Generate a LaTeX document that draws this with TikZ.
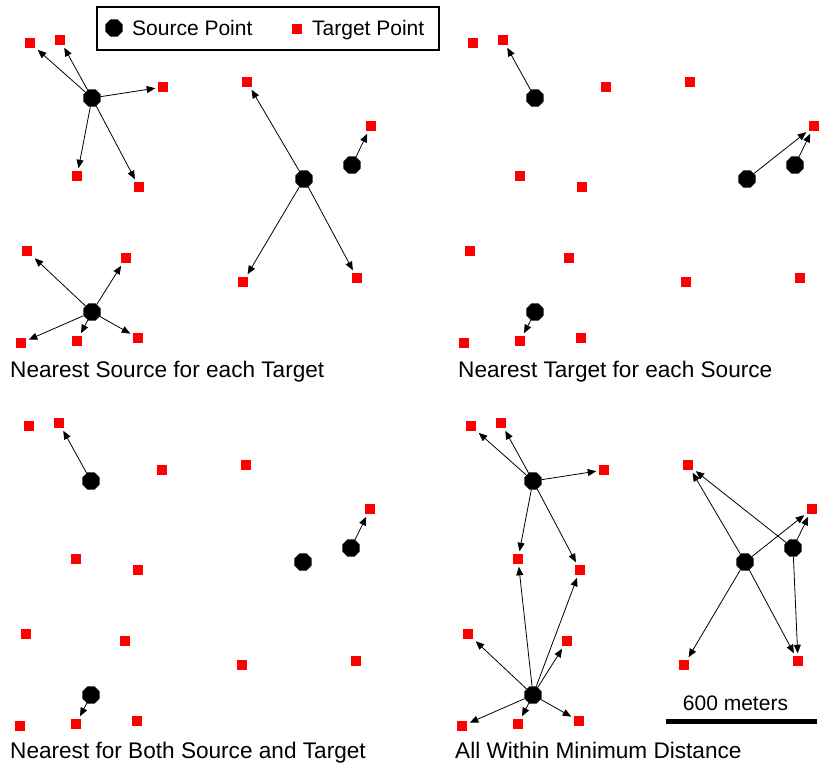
\documentclass[tikz,border=0pt]{standalone}
\usepackage{fontspec}
\setmainfont{Liberation Sans}
\usetikzlibrary{arrows.meta, shapes.geometric}
\definecolor{targetred}{HTML}{FF0000}

% the same sources and targets are placed in every panel
\newcommand{\placepoints}{%
  \node[src] (S1) at (92,98) {};
  \node[src] (S2) at (304,179) {};
  \node[src] (S3) at (352,165) {};
  \node[src] (S4) at (92,312) {};
  \node[tgt] (T1) at (30,43) {};
  \node[tgt] (T2) at (60,40) {};
  \node[tgt] (T3) at (163,87) {};
  \node[tgt] (T4) at (247,82) {};
  \node[tgt] (T5) at (371,126) {};
  \node[tgt] (T6) at (77,176) {};
  \node[tgt] (T7) at (139,187) {};
  \node[tgt] (T8) at (27,251) {};
  \node[tgt] (T9) at (126,258) {};
  \node[tgt] (T10) at (243,282) {};
  \node[tgt] (T11) at (357,278) {};
  \node[tgt] (T12) at (21,343) {};
  \node[tgt] (T13) at (77,341) {};
  \node[tgt] (T14) at (138,338) {};
}

\begin{document}
\begin{tikzpicture}[x=1pt, y=-1pt,
    src/.style={regular polygon, regular polygon sides=8, fill=black, inner sep=0pt, minimum size=18.5pt},
    tgt/.style={rectangle, fill=targetred, inner sep=0pt, minimum size=10.5pt, outer sep=2.5pt},
    arr/.style={-{Triangle[length=8.5pt, width=7pt]}, line width=0.8pt},
    caption/.style={anchor=base west, inner sep=0pt, font=\fontsize{22.6}{27}\selectfont},
    legtext/.style={anchor=base west, inner sep=0pt, font=\fontsize{21}{25}\selectfont},
]
\useasboundingbox (0,0) rectangle (827,764);

% legend
\draw[line width=1.2pt] (97,7) rectangle (439,50);
\node[src] (leg-src) at (114,28) {};
\node[legtext] (leg-srctext) at (132,35.5) {Source Point};
\node[tgt, outer sep=0pt] (leg-tgt) at (297,29) {};
\node[legtext] (leg-tgttext) at (312,35.5) {Target Point};

% nearest source for each target
\begin{scope}[name prefix=a-]
\placepoints
\foreach \s/\t in {S1/T1, S1/T2, S1/T3, S1/T6, S1/T7, S2/T4, S2/T10, S2/T11, S3/T5,
    S4/T8, S4/T9, S4/T12, S4/T13, S4/T14}
  \draw[arr] (\s) -- (\t);
\end{scope}

% nearest target for each source
\begin{scope}[shift={(443,0)}, name prefix=b-]
\placepoints
\foreach \s/\t in {S1/T2, S2/T5, S3/T5, S4/T13}
  \draw[arr] (\s) -- (\t);
\end{scope}

% nearest for both
\begin{scope}[shift={(-1,383)}, name prefix=c-]
\placepoints
\foreach \s/\t in {S1/T2, S3/T5, S4/T13}
  \draw[arr] (\s) -- (\t);
\end{scope}

% all within minimum distance
\begin{scope}[shift={(441,383)}, name prefix=d-]
\placepoints
\foreach \s/\t in {S1/T1, S1/T2, S1/T3, S1/T6, S1/T7, S2/T4, S2/T5, S2/T10, S2/T11,
    S3/T4, S3/T5, S3/T11, S4/T6, S4/T7, S4/T8, S4/T9, S4/T12, S4/T13, S4/T14}
  \draw[arr] (\s) -- (\t);
\end{scope}

\node[caption] (cap-a) at (10,377) {Nearest Source for each Target};
\node[caption] (cap-b) at (458,377) {Nearest Target for each Source};
\node[caption] (cap-c) at (10,758) {Nearest for Both Source and Target};
\node[caption] (cap-d) at (455,758) {All Within Minimum Distance};

% scale bar
\coordinate (bar-l) at (666,721);
\coordinate (bar-r) at (817,721);
\draw[line width=5pt] (bar-l) -- (bar-r);
\node[legtext, anchor=base] (bar-label) at (735.5,710) {600 meters};
\end{tikzpicture}
\end{document}
